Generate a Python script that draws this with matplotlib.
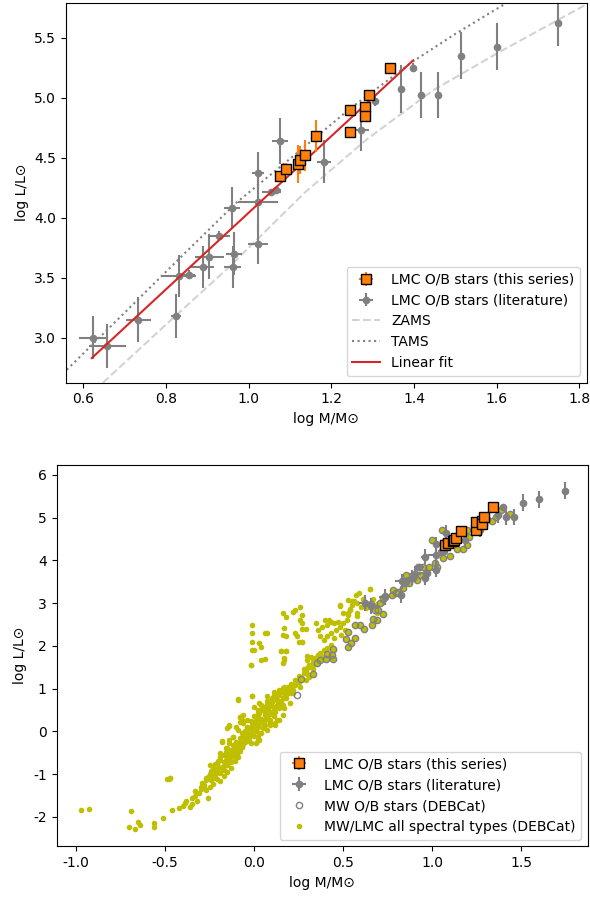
import numpy as np
import matplotlib
matplotlib.use("Agg")
from matplotlib import pyplot as plt

plt.rcParams['axes.unicode_minus'] = False

# --- LMC O/B stars, this series
ob_x = [1.075, 1.091, 1.119, 1.124, 1.136, 1.162, 1.246, 1.246, 1.282, 1.282, 1.292, 1.342]
ob_y = [4.35, 4.405, 4.445, 4.48, 4.52, 4.68, 4.71, 4.90, 4.92, 4.85, 5.025, 5.25]
ob_xerr = [0.01] * 12
ob_yerr = [0.03, 0.05, 0.16, 0.12, 0.13, 0.13, 0.03, 0.03, 0.03, 0.03, 0.03, 0.03]

# --- LMC O/B stars, literature
lit_x = [0.624, 0.658, 0.733, 0.824, 0.832, 0.855, 0.889, 0.904, 0.928, 0.959,
         0.964, 0.961, 1.022, 1.023, 1.023, 1.055, 1.067, 1.076, 1.183, 1.272,
         1.306, 1.369, 1.398, 1.417, 1.458, 1.513, 1.602, 1.749]
lit_y = [3.00, 2.93, 3.15, 3.18, 3.51, 3.525, 3.59, 3.675, 3.85, 4.08,
         3.70, 3.59, 3.78, 4.13, 4.375, 4.215, 4.23, 4.64, 4.465, 4.73,
         4.97, 5.07, 5.25, 5.02, 5.02, 5.35, 5.425, 5.625]
lit_xerr = [0.035, 0.044, 0.030, 0.012, 0.041, 0.014, 0.028, 0.035, 0.026, 0.020,
            0.020, 0.021, 0.024, 0.048, 0.015, 0.022, 0.012, 0.019, 0.017, 0.019,
            0.005, 0.005, 0.005, 0.005, 0.005, 0.005, 0.005, 0.005]
lit_yerr = [0.18, 0.18, 0.19, 0.18, 0.175, 0.035, 0.175, 0.19, 0.035, 0.175,
            0.18, 0.175, 0.17, 0.25, 0.175, 0.02, 0.02, 0.19, 0.18, 0.175,
            0.04, 0.20, 0.04, 0.19, 0.19, 0.195, 0.195, 0.195]

# --- evolutionary tracks and fit
zams_x = [0.55, 0.647, 0.80, 0.95, 1.136, 1.285, 1.446, 1.607, 1.83]
zams_y = [2.31, 2.625, 3.11, 3.58, 4.21, 4.65, 5.06, 5.38, 5.80]
tams_x = [0.55, 0.70, 0.85, 0.972, 1.10, 1.246, 1.397, 1.50, 1.62, 1.70]
tams_y = [2.70, 3.21, 3.72, 4.13, 4.49, 4.91, 5.30, 5.53, 5.78, 5.93]
fit_x = [0.62, 1.398]
fit_y = [2.83, 5.31]

# --- DEBCat: MW O/B stars (first two not in the all-types sample)
mw_ob = np.array([
    (0.264, 1.228), (0.243, 0.854),
    (0.333, 1.337), (0.352, 1.595), (0.371, 1.673), (0.404, 1.688), (0.442, 1.696),
    (0.723, 2.749), (0.446, 1.922), (0.436, 1.789), (0.408, 1.805), (0.530, 2.335),
    (0.517, 2.156), (0.543, 2.078), (0.567, 2.179), (0.526, 1.969), (0.567, 2.491),
    (0.595, 2.491), (0.618, 2.390), (0.661, 2.491), (0.670, 2.624), (0.689, 2.608),
    (0.698, 2.842), (0.680, 2.842), (0.655, 2.982),
    (0.708, 2.998), (0.727, 3.092), (0.783, 3.310), (0.798, 3.232), (0.839, 3.349),
    (0.854, 3.661), (0.873, 3.466), (0.895, 3.583), (0.923, 3.856), (0.970, 3.700),
    (0.985, 3.856), (1.017, 3.934), (1.026, 3.840), (1.060, 4.051), (1.098, 4.090),
    (1.054, 4.698), (0.998, 4.480), (1.073, 4.441), (1.142, 4.261), (1.172, 4.261),
    (1.199, 4.363), (1.210, 4.542), (1.199, 4.714), (1.270, 4.714), (1.335, 4.909),
    (1.360, 5.025), (1.386, 5.166), (1.435, 5.088), (0.736, 3.170), (0.774, 3.193),
    (0.811, 3.271), (0.948, 3.856), (0.933, 3.661), (0.848, 3.466), (0.914, 3.544),
])

# --- DEBCat: all spectral types (besides the O/B stars above)
mw_other = np.array([
    (-0.97, -1.84), (-0.93, -1.82), (-0.69, -1.86), (-0.70, -2.24), (-0.67, -2.27),
    (-0.64, -2.19), (-0.65, -2.11), (-0.56, -2.15), (-0.56, -2.23), (-0.51, -2.03),
    (-0.46, -1.84), (-0.49, -1.12), (-0.47, -1.10), (-0.42, -1.80), (-0.40, -1.74),
    (-0.39, -1.68), (-0.36, -1.76), (-0.35, -1.70), (-0.32, -1.62), (-0.33, -1.51),
    (-0.30, -1.35), (-0.28, -1.28), (-0.27, -1.38), (-0.26, -1.56), (-0.23, -1.23),
    (-0.21, -1.12), (-0.22, -0.76), (-0.20, -0.94), (-0.18, -0.24), (-0.17, -0.90),
    (-0.16, -0.78), (-0.14, -0.67), (-0.14, -0.55), (-0.13, -0.43), (-0.15, -0.39),
    (-0.14, -0.28), (-0.12, -0.12), (-0.14, 0.13), (-0.09, 0.75), (-0.08, 0.33),
    (-0.07, 0.27), (-0.06, 0.39), (-0.04, 0.11), (-0.05, -0.12), (-0.07, -0.04),
    (-0.09, -0.34), (-0.10, -0.51), (-0.01, 0.83), (-0.02, 1.56),
    # giant branch cloud
    (-0.01, 2.48), (-0.01, 2.30), (-0.01, 2.10), (0.00, 1.91), (0.03, 2.06),
    (0.17, 1.67), (0.16, 1.61), (0.06, 2.30), (0.04, 1.98), (0.16, 2.78),
    (0.18, 2.67), (0.22, 2.80), (0.23, 2.84), (0.26, 2.90), (0.27, 2.73),
    (0.26, 2.61), (0.27, 2.53), (0.27, 2.39), (0.29, 2.39), (0.17, 2.41),
    (0.16, 2.26), (0.18, 2.22), (0.23, 2.30), (0.24, 2.22), (0.25, 2.10),
    (0.27, 2.08), (0.15, 1.87), (0.18, 1.89), (0.04, 1.67), (0.07, 2.31),
    (0.35, 2.53), (0.36, 2.37), (0.38, 2.45), (0.40, 2.61), (0.41, 2.49),
    (0.43, 2.57), (0.45, 2.53), (0.47, 2.57), (0.48, 2.45), (0.50, 2.53),
    (0.46, 2.37), (0.43, 2.30), (0.41, 2.22), (0.39, 2.14), (0.37, 2.23),
    (0.45, 2.18), (0.49, 2.26), (0.51, 2.37), (0.52, 2.61), (0.53, 2.73),
    (0.54, 2.84), (0.55, 3.04), (0.55, 2.96), (0.58, 3.01), (0.59, 3.23),
    (0.65, 3.33), (0.48, 2.94), (0.58, 2.69), (0.43, 1.95), (0.45, 1.91),
    (0.38, 1.75), (0.36, 1.79), (0.35, 1.67), (0.33, 1.69), (0.32, 1.75),
    (0.34, 1.58), (0.30, 1.77), (0.42, 2.61), (0.53, 3.08), (0.54, 2.86),
    (0.60, 2.92), (0.67, 3.09), (0.69, 2.98), (0.72, 3.01), (0.72, 3.14),
    (0.69, 2.76), (0.63, 2.88), (0.58, 2.76), (0.48, 2.96), (0.56, 3.06),
    (0.57, 3.19), (0.61, 3.09), (0.65, 3.33), (0.50, 2.76), (0.53, 2.76),
    # main band
    (-0.11, -0.47), (-0.09, -0.36), (-0.08, -0.24), (-0.06, -0.12), (-0.05, 0.00),
    (-0.04, 0.05), (-0.02, 0.11), (-0.01, 0.19), (0.01, 0.27), (0.02, 0.35),
    (0.03, 0.43), (0.04, 0.50), (0.06, 0.58), (0.07, 0.64), (0.09, 0.70),
    (0.10, 0.78), (0.11, 0.85), (0.13, 0.91), (0.14, 0.97), (0.16, 1.01),
    (0.17, 1.05), (0.18, 0.97), (0.20, 1.01), (0.22, 1.09), (0.13, 0.74),
    (0.11, 0.58), (0.08, 0.46), (0.06, 0.39), (0.03, 0.27), (0.02, 0.11),
    (-0.01, -0.08), (-0.04, -0.20), (0.03, -0.04), (0.05, 0.11), (0.00, 0.58),
    (0.03, 0.66), (0.07, 0.82), (0.11, 0.93), (0.07, 0.31), (0.11, 0.35),
    (0.14, 0.27), (0.12, 0.19), (0.09, 0.19), (0.24, 1.17), (0.26, 1.28),
    (0.28, 1.36), (0.30, 1.48), (0.31, 1.56), (0.33, 1.63), (0.31, 1.28),
    (0.29, 1.21), (0.26, 1.05), (0.34, 1.71), (0.36, 1.79), (0.37, 1.83),
    (0.39, 1.91), (0.41, 1.95), (0.43, 2.02), (0.03, -0.20), (0.01, -0.28),
    (0.02, -0.12), (-0.12, -0.32), (-0.07, -0.36), (-0.15, -0.59), (-0.18, -0.82),
    (-0.16, -0.67), (-0.23, -0.82), (-0.26, -1.06), (-0.22, -1.02), (-0.19, -0.51),
    (-0.02, 1.56), (0.06, 1.69), (-0.01, 1.91), (0.15, 1.87), (0.17, 1.71),
    (0.18, 1.87), (0.27, 2.10), (-0.09, 0.74), (-0.01, 0.83), (0.07, 0.70),
    (0.02, 0.44), (-0.08, 0.33), (-0.08, 0.23), (-0.14, 0.15), (-0.09, 0.04),
    (-0.12, -0.12), (-0.14, -0.20), (-0.18, -0.22), (-0.16, -0.38), (-0.25, -0.79),
    (-0.21, -0.75), (-0.48, -1.11), (-0.47, -1.09), (-0.30, -1.29), (-0.28, -1.25),
    (-0.24, -1.14), (-0.22, -1.06), (-0.19, -0.98), (-0.18, -0.86), (-0.15, -0.78),
    (-0.13, -0.71), (-0.11, -0.59), (-0.09, -0.47), (-0.07, -0.36), (-0.05, -0.24),
    (-0.03, -0.12), (-0.01, 0.00), (0.01, 0.10), (0.03, 0.19), (0.06, 0.27),
    (0.08, 0.39), (0.10, 0.46), (0.12, 0.58), (0.14, 0.66), (0.16, 0.78),
    (0.18, 0.85), (0.20, 0.97), (0.23, 1.09), (0.26, 1.24), (0.29, 1.40),
    (0.31, 1.56), (0.30, 1.67), (-0.02, -0.28), (0.02, -0.20), (0.04, -0.04),
    (0.07, 0.04), (0.09, 0.15), (0.13, 0.27), (0.16, 0.39), (0.17, 0.54),
    (0.20, 0.66), (0.09, 0.27), (0.12, 0.15), (0.05, 0.07), (0.13, 0.74),
    (0.17, 0.89), (0.22, 0.89), (-0.06, -0.04), (-0.04, 0.07), (0.00, 0.15),
    (0.03, -0.20), (-0.12, -0.43), (-0.15, -0.55), (-0.19, -0.67), (-0.22, -0.94),
    (-0.27, -1.14), (-0.28, -1.33), (-0.20, -0.82), (-0.14, -0.43), (-0.06, 0.19),
    (-0.04, 0.27), (-0.10, 0.11), (-0.15, 0.07),
    # denser core of the band
    (-0.29, -1.20), (-0.27, -1.10), (-0.25, -1.00), (-0.24, -0.92), (-0.23, -1.10),
    (-0.21, -0.88), (-0.20, -0.70), (-0.19, -0.60), (-0.17, -0.72), (-0.17, -0.55),
    (-0.16, -0.48), (-0.15, -0.65), (-0.13, -0.60), (-0.12, -0.52), (-0.11, -0.35),
    (-0.10, -0.25), (-0.10, -0.40), (-0.08, -0.15), (-0.08, -0.45), (-0.06, -0.30),
    (-0.05, -0.20), (-0.03, -0.05), (-0.02, 0.05), (-0.03, -0.22), (0.00, -0.10),
    (0.01, 0.02), (0.02, 0.20), (0.04, 0.30), (0.05, 0.22), (0.06, 0.45),
    (0.08, 0.52), (0.09, 0.60), (0.10, 0.68), (0.11, 0.50), (0.12, 0.80),
    (0.13, 0.62), (0.14, 0.85), (0.15, 0.92), (0.15, 0.70), (0.17, 0.95),
    (0.18, 0.78), (0.19, 1.05), (0.20, 0.90), (0.21, 1.12), (0.22, 0.98),
    (0.23, 1.20), (0.25, 1.15), (0.25, 1.30), (0.27, 1.22), (0.28, 1.45),
    (0.30, 1.35), (0.32, 1.50), (0.33, 1.45), (0.35, 1.60), (0.02, 0.50),
    (0.04, 0.62), (0.00, 0.35), (-0.02, 0.25), (-0.04, -0.10), (0.06, 0.15),
    (0.08, 0.30), (0.10, 0.40), (0.12, 0.45), (0.14, 0.55), (0.16, 0.62),
    (-0.09, -0.60), (-0.11, -0.70), (-0.13, -0.85), (-0.15, -0.95), (-0.17, -1.05),
    (-0.19, -1.15), (-0.25, -1.30), (-0.35, -1.55), (-0.38, -1.62), (-0.31, -1.45),
    (-0.33, -1.40),
])

mw_all = np.vstack([mw_other, mw_ob[2:]])

fig = plt.figure(figsize=(5.9, 8.99), dpi=100)

# ---------------- top panel
ax1 = fig.add_axes([0.1114, 0.5743, 0.883, 0.4227])
l_zams, = ax1.plot(zams_x, zams_y, '--', color='lightgray', lw=1.5, label='ZAMS')
l_tams, = ax1.plot(tams_x, tams_y, ':', color='gray', lw=1.5, label='TAMS')
e_lit = ax1.errorbar(lit_x, lit_y, xerr=lit_xerr, yerr=lit_yerr, fmt='o', color='gray',
                     ms=4.5, elinewidth=1.5, label='LMC O/B stars (literature)')
l_fit, = ax1.plot(fit_x, fit_y, color='tab:red', lw=1.5, label='Linear fit', zorder=2.5)
e_ob = ax1.errorbar(ob_x, ob_y, xerr=ob_xerr, yerr=ob_yerr, fmt='s', color='tab:orange',
                    mec='black', ms=7, elinewidth=1.5, zorder=3,
                    label='LMC O/B stars (this series)')
ax1.set_xlim(0.557, 1.818)
ax1.set_ylim(2.625, 5.79)
ax1.set_xlabel('log M/M⊙')
ax1.set_ylabel('log L/L⊙')
ax1.legend(handles=[e_ob, e_lit, l_zams, l_tams, l_fit], loc='lower right')

# ---------------- bottom panel
ax2 = fig.add_axes([0.0958, 0.0584, 0.9008, 0.4244])
p_all, = ax2.plot(mw_all[:, 0], mw_all[:, 1], 'o', color='y', ms=4, mew=0,
                  label='MW/LMC all spectral types (DEBCat)')
p_mw, = ax2.plot(mw_ob[:, 0], mw_ob[:, 1], 'o', mfc='none', mec='gray', ms=4.5, mew=1.0,
                 label='MW O/B stars (DEBCat)')
e_lit2 = ax2.errorbar(lit_x, lit_y, xerr=lit_xerr, yerr=lit_yerr, fmt='o', color='gray',
                      ms=4.5, elinewidth=1.5, zorder=3, label='LMC O/B stars (literature)')
e_ob2 = ax2.errorbar(ob_x, ob_y, xerr=ob_xerr, yerr=ob_yerr, fmt='s', color='tab:orange',
                     mec='black', ms=7, elinewidth=1.5, zorder=4,
                     label='LMC O/B stars (this series)')
ax2.set_xlim(-1.11, 1.876)
ax2.set_ylim(-2.69, 6.23)
ax2.set_xlabel('log M/M⊙')
ax2.set_ylabel('log L/L⊙')
ax2.legend(handles=[e_ob2, e_lit2, p_mw, p_all], loc='lower right')

fig.savefig('out.png', dpi=100)
